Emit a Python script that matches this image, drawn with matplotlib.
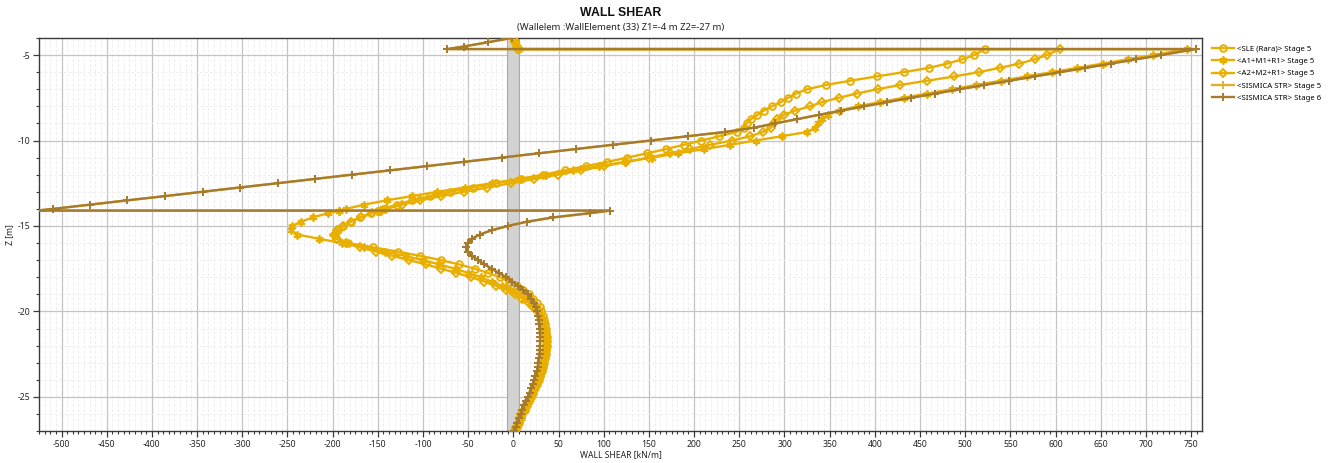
import matplotlib
matplotlib.use("Agg")
import matplotlib.pyplot as plt
from matplotlib.ticker import MultipleLocator

plt.rcParams['font.family'] = ['Noto Sans', 'DejaVu Sans']
plt.rcParams['axes.unicode_minus'] = False

# Depth levels [m]; duplicated levels carry the jumps at the support levels
depth = [-4.0, -4.25, -4.5, -4.65, -4.65,
         -5.0, -5.25, -5.5, -5.75, -6.0, -6.25, -6.5, -6.75, -7.0, -7.25,
         -7.5, -7.75, -8.0, -8.25, -8.5, -8.75, -9.0, -9.25, -9.5, -9.75,
         -10.0, -10.25, -10.5, -10.75, -11.0, -11.25, -11.5, -11.75, -12.0,
         -12.25, -12.5, -12.75, -13.0, -13.25, -13.5, -13.75, -14.0,
         -14.1, -14.1,
         -14.25, -14.5, -14.75, -15.0, -15.25, -15.5, -15.75, -16.0, -16.25,
         -16.5, -16.75, -17.0, -17.25, -17.5, -17.75, -18.0, -18.25, -18.5,
         -18.75, -19.0, -19.25, -19.5, -19.75, -20.0, -20.25, -20.5, -20.75,
         -21.0, -21.25, -21.5, -21.75, -22.0, -22.25, -22.5, -22.75, -23.0,
         -23.25, -23.5, -23.75, -24.0, -24.25, -24.5, -24.75, -25.0, -25.25,
         -25.5, -25.75, -26.0, -26.25, -26.5, -26.75, -27.0]

# Wall shear [kN/m] per load case
sle_rara_s5 = [0, 2, 4, 5, 522,
               510, 497, 480, 460, 432, 402, 373, 346, 325, 313,
               304, 296, 286, 277, 270, 263, 258, 255, 247, 228,
               208, 189, 169, 148, 126, 104, 80, 57, 33,
               8, -19, -45, -70, -92, -112, -129, -144,
               -150, -150,
               -158, -170, -180, -188, -194, -197, -196, -183, -155,
               -128, -103, -80, -60, -43, -28, -15, -5, 4,
               11, 17, 22, 26, 29, 31, 33, 34, 35,
               36, 36.5, 37, 37, 37, 36.5, 36, 35, 34,
               33, 31.5, 30, 28, 26, 24, 22, 20, 17.5,
               15, 12.5, 10, 8, 6, 4, 2]

a1m1r1_s5 = [0, 2, 4, 6, 745,
             708, 680, 652, 624, 596, 568, 540, 512, 485, 458,
             432, 406, 381, 360, 348, 341, 337, 334, 325, 297,
             268, 240, 211, 182, 153, 124, 95, 66, 36,
             6, -24, -54, -84, -112, -140, -165, -185,
             -193, -193,
             -205, -222, -235, -245, -246, -239, -215, -190, -165,
             -142, -120, -100, -82, -65, -50, -36, -24, -13,
             -4, 5, 12, 18, 23, 27, 30, 32, 33,
             34, 35, 35.5, 36, 36, 35.5, 35, 34, 33,
             32, 30.5, 29, 27, 25, 23, 21, 19, 16.5,
             14, 11.5, 9, 7, 5, 3, 1]

a2m2r1_s5 = [0, 2, 4, 5, 605,
             590, 577, 560, 538, 515, 488, 458, 428, 403, 380,
             360, 342, 328, 312, 299, 292, 288, 285, 276, 262,
             242, 218, 196, 173, 150, 125, 100, 75, 49,
             23, -3, -29, -55, -80, -103, -123, -141,
             -147, -147,
             -156, -169, -180, -189, -195, -198, -195, -185, -170,
             -152, -134, -115, -97, -80, -63, -47, -32, -19,
             -8, 2, 10, 17, 22, 26, 29, 31, 33,
             34, 35, 35.5, 36, 36, 35.5, 35, 34, 33,
             32, 30.5, 29, 27, 25, 23, 21, 19, 16.5,
             14, 11.5, 9, 7, 5, 3, 1]

sismica_s5 = [-2, -28, -55, -73, 755,
              717, 689, 661, 633, 605, 577, 549, 521, 494, 467,
              440, 414, 388, 363, 338, 314, 290, 266, 234, 193,
              152, 110, 69, 28, -13, -55, -96, -137, -179,
              -220, -261, -303, -344, -385, -427, -468, -509,
              -527, 107,
              85, 44, 15, -6, -24, -37, -46, -50, -52,
              -50, -46, -39, -32, -24, -16, -8, -1, 5,
              11, 16, 20, 23, 25, 26, 27, 28, 28.5,
              29, 29.5, 29.5, 29.5, 29.5, 29, 29, 28, 27.5,
              27, 26, 24.5, 23, 21.5, 20, 18, 16, 14,
              12, 10, 8, 6, 4.5, 3, 1]

sismica_s6 = [-2, -28, -55, -73, 755,
              717, 689, 661, 633, 605, 577, 549, 521, 494, 467,
              440, 414, 388, 363, 338, 314, 290, 266, 234, 193,
              152, 110, 69, 28, -13, -55, -96, -137, -179,
              -220, -261, -303, -344, -385, -427, -468, -509,
              -527, 107,
              85, 44, 15, -6, -24, -37, -46, -50, -52,
              -50, -46, -39, -32, -24, -16, -8, -1, 5,
              11, 16, 20, 23, 25, 26, 27, 28, 28.5,
              29, 29.5, 29.5, 29.5, 29.5, 29, 29, 28, 27.5,
              27, 26, 24.5, 23, 21.5, 20, 18, 16, 14,
              12, 10, 8, 6, 4.5, 3, 1]

labels = ["<SLE (Rara)> Stage 5", "<A1+M1+R1> Stage 5", "<A2+M2+R1> Stage 5",
          "<SISMICA STR> Stage 5", "<SISMICA STR> Stage 6"]

wall_band = (-6.5, 6.5)
x_range = (-525, 762)
z_range = (-27, -4)

GOLD = "#E8AE00"
GOLD2 = "#DDB030"
BROWN = "#A67B2E"
TXT = "#222222"

fig = plt.figure(figsize=(13.29, 4.63), dpi=100)
ax = fig.add_axes([0.0293, 0.069, 0.8751, 0.849])

ax.axvspan(*wall_band, facecolor="#d2d2d2", edgecolor="#a9a9a9", lw=0.8, zorder=1)

styles = [
    dict(color=GOLD, marker="o", ms=4.8, mfc="none", mew=1.4),
    dict(color=GOLD, marker=(6, 2, 0), ms=5.8, mew=1.3),
    dict(color=GOLD, marker="D", ms=4.2, mfc="none", mew=1.4),
    dict(color=GOLD2, marker="+", ms=5.5, mew=1.3),
    dict(color=BROWN, marker="+", ms=5.5, mew=1.4),
]
series = [sle_rara_s5, a1m1r1_s5, a2m2r1_s5, sismica_s5, sismica_s6]
for vals, lab, st in zip(series, labels, styles):
    ax.plot(vals, depth, lw=1.7, label=lab, zorder=3, **st)

ax.set_xlim(*x_range)
ax.set_ylim(*z_range)
ax.xaxis.set_major_locator(MultipleLocator(50))
ax.xaxis.set_minor_locator(MultipleLocator(6.25))
ax.yaxis.set_major_locator(MultipleLocator(5))
ax.yaxis.set_minor_locator(MultipleLocator(1))
ax.grid(which="major", color="#c4c4c4", lw=0.9, zorder=0)
ax.grid(which="minor", color="#eeeeee", lw=0.7, ls=(0, (3, 2)), zorder=0)
ax.set_axisbelow(True)

for s in ax.spines.values():
    s.set_color("#3a3a3a")
    s.set_linewidth(1.0)
ax.tick_params(which="major", direction="out", length=4, width=0.9, colors="#3a3a3a",
               labelsize=6.2, labelcolor=TXT, pad=2.5)
ax.tick_params(which="minor", direction="out", length=2.5, width=0.8, colors="#3a3a3a")

ax.set_xlabel("WALL SHEAR [kN/m]", fontsize=6.2, color=TXT, labelpad=1)
ax.set_ylabel("Z [m]", fontsize=6.2, color=TXT, labelpad=2)

fig.text(0.4669, 0.972, "WALL SHEAR", ha="center", va="center", fontsize=8.8,
         fontweight="bold", family=["Liberation Sans", "DejaVu Sans"], color="#111111")
fig.text(0.4669, 0.941, "(Wallelem :WallElement (33) Z1=-4 m Z2=-27 m)", ha="center",
         va="center", fontsize=6.8, color=TXT)

ax.legend(loc="upper left", bbox_to_anchor=(1.004, 0.995), frameon=False, fontsize=5.6,
          handlelength=2.8, handletextpad=0.4, labelspacing=0.62, borderaxespad=0.3)

fig.savefig("out.png", dpi=100)
